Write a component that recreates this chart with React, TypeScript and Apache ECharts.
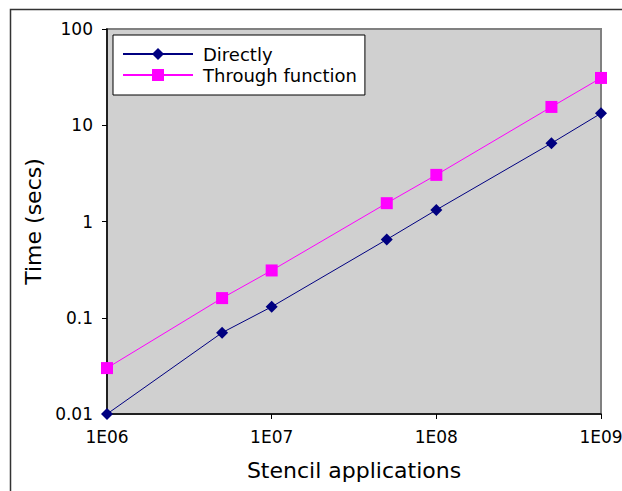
import React, { useEffect, useRef } from "react";
import * as echarts from "echarts";

const xValues = [1e6, 5e6, 1e7, 5e7, 1e8, 5e8, 1e9];
const directly = [0.01, 0.07, 0.13, 0.65, 1.32, 6.5, 13.3];
const throughFunction = [0.03, 0.16, 0.31, 1.55, 3.05, 15.5, 31];
const seriesNames = ["Directly", "Through function"];
const xLabels: Record<string, string> = { "1000000": "1E06", "10000000": "1E07", "100000000": "1E08", "1000000000": "1E09" };
const yLabels: Record<string, string> = { "0.01": "0.01", "0.1": "0.1", "1": "1", "10": "10", "100": "100" };

function fmtY(v: number) {
  const key = String(Number(v.toPrecision(6)));
  return yLabels[key] ?? key;
}
function fmtX(v: number) {
  const key = String(Math.round(v));
  return xLabels[key] ?? "";
}

export default function App() {
  const ref = useRef<HTMLDivElement>(null);
  useEffect(() => {
    if (!ref.current) return;
    const chart = echarts.init(ref.current, null, { renderer: "svg" });
    const font = "DejaVu Sans";
    chart.setOption({
      animation: false,
      backgroundColor: "#ffffff",
      textStyle: { fontFamily: font },
      graphic: [
        {
          type: "rect",
          shape: { x: 10.5, y: 9.5, width: 700, height: 600 },
          style: { fill: "none", stroke: "#333333", lineWidth: 1.5 },
          silent: true,
        },
      ],
      grid: {
        left: 107,
        top: 29,
        right: 21,
        bottom: 77,
        containLabel: false,
        outerBoundsMode: "none",
        show: true,
        backgroundColor: "#d0d0d0",
        borderColor: "#808080",
        borderWidth: 2,
      },
      legend: {
        left: 113,
        top: 35,
        orient: "vertical",
        data: seriesNames,
        backgroundColor: "#ffffff",
        borderColor: "#000000",
        borderWidth: 1,
        borderRadius: 0,
        padding: [10, 8, 11, 9],
        itemGap: 3,
        itemWidth: 70,
        itemHeight: 15,
        textStyle: { fontFamily: font, fontSize: 18, lineHeight: 18, color: "#000000", padding: [0, 0, 0, 5] },
      },
      xAxis: {
        type: "log",
        logBase: 10,
        min: 1e6,
        max: 1e9,
        name: "Stencil applications",
        nameLocation: "middle",
        nameGap: 45,
        nameTextStyle: { fontFamily: font, fontSize: 22, color: "#000000" },
        axisLine: { show: true, lineStyle: { color: "#000000", width: 1.5 } },
        axisTick: { show: true, length: 5, lineStyle: { color: "#000000" } },
        axisLabel: { fontFamily: font, fontSize: 17, color: "#000000", margin: 14, formatter: fmtX },
        splitLine: { show: false },
        minorTick: { show: false },
      },
      yAxis: {
        type: "log",
        logBase: 10,
        min: 0.01,
        max: 100,
        name: "Time (secs)",
        nameLocation: "middle",
        nameGap: 63,
        nameTextStyle: { fontFamily: font, fontSize: 22, color: "#000000" },
        axisLine: { show: true, lineStyle: { color: "#000000", width: 1.5 } },
        axisTick: { show: true, length: 5, lineStyle: { color: "#000000" } },
        axisLabel: { fontFamily: font, fontSize: 17, color: "#000000", margin: 14, formatter: fmtY },
        splitLine: { show: false },
      },
      series: [
        {
          name: seriesNames[0],
          type: "line",
          data: xValues.map((x, i) => [x, directly[i]]),
          symbol: "diamond",
          symbolSize: 12,
          showAllSymbol: true,
          itemStyle: { color: "#000080" },
          lineStyle: { color: "#000080", width: 1 },
          clip: false,
        },
        {
          name: seriesNames[1],
          type: "line",
          data: xValues.map((x, i) => [x, throughFunction[i]]),
          symbol: "rect",
          symbolSize: 12,
          showAllSymbol: true,
          itemStyle: { color: "#ff00ff" },
          lineStyle: { color: "#ff00ff", width: 1 },
          clip: false,
        },
      ],
    });
    return () => chart.dispose();
  }, []);
  return (
    <div
      ref={ref}
      style={{ position: "fixed", left: 0, top: 0, width: 622, height: 491 }}
    />
  );
}
